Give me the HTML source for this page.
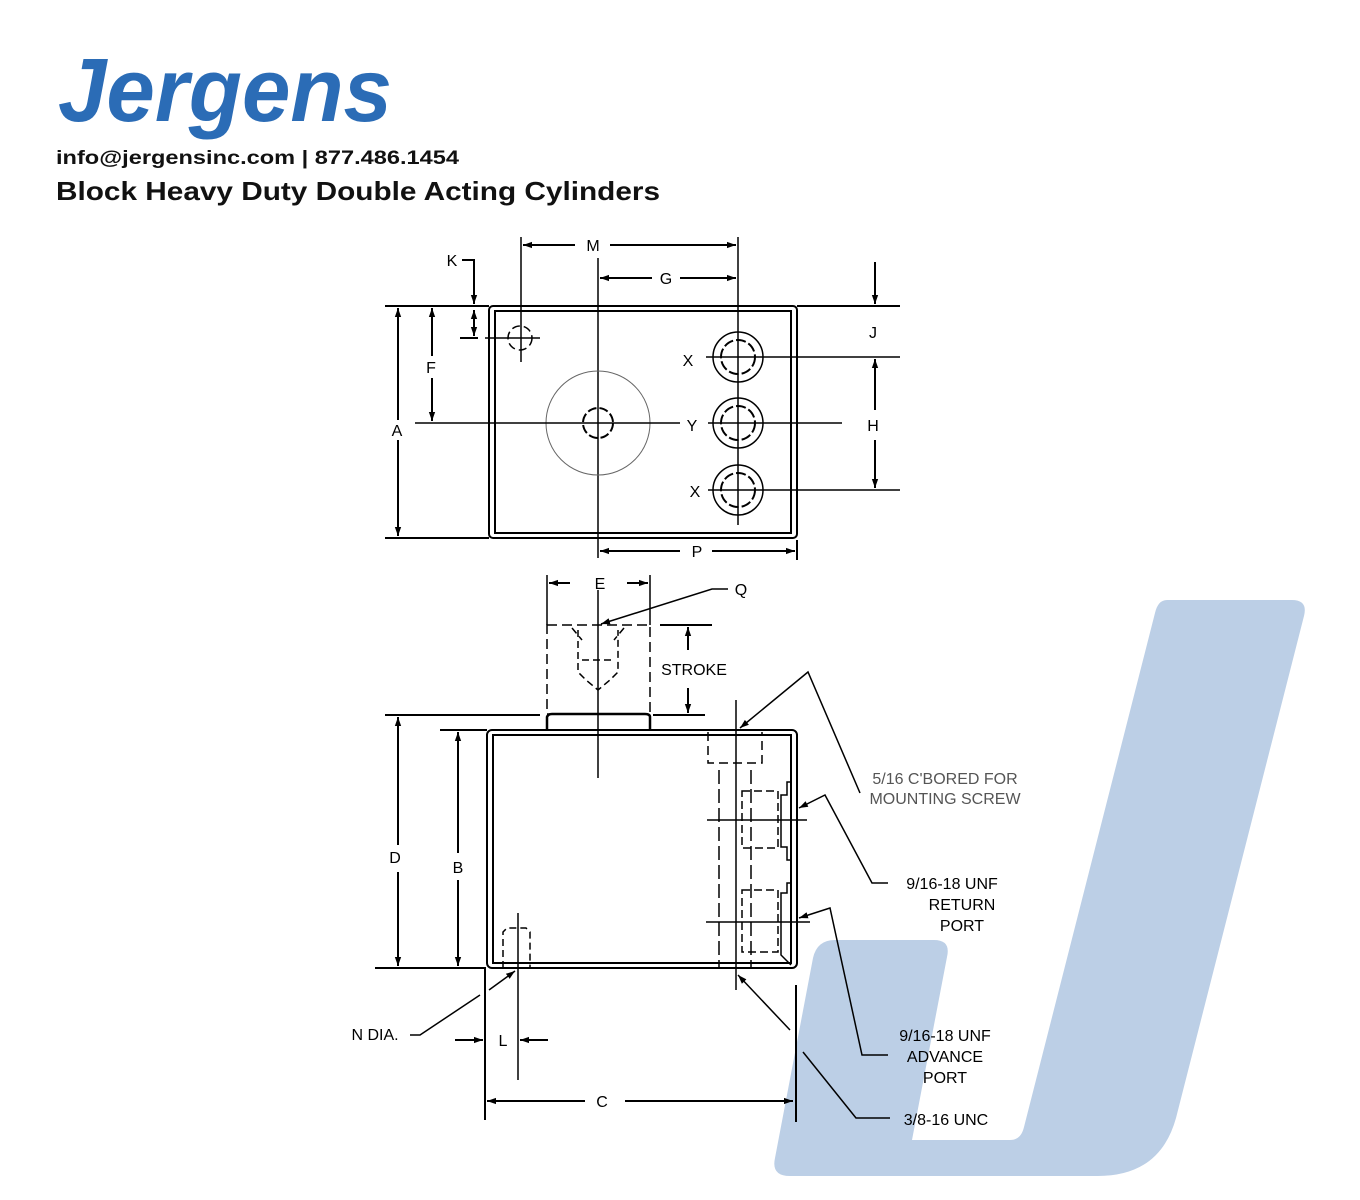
<!DOCTYPE html>
<html><head><meta charset="utf-8"><style>
html,body{margin:0;padding:0;background:#fff;}
body{width:1360px;height:1200px;position:relative;overflow:hidden;font-family:"Liberation Sans",sans-serif;}
svg{position:absolute;left:0;top:0;}
</style></head><body>
<svg width="1360" height="1200" viewBox="0 0 1360 1200" xmlns="http://www.w3.org/2000/svg">
<defs>
<marker id="a" viewBox="0 0 10 10" refX="10" refY="5" markerWidth="9" markerHeight="9" orient="auto-start-reverse" markerUnits="userSpaceOnUse"><path d="M0,1.5 L10,5 L0,8.5 Z" fill="#000"/></marker>
</defs>
<!-- big J watermark -->
<path d="M1167,600 L1292,600 Q1308,600 1304,616 L1176,1118 Q1160,1176 1098,1176 L790,1176 Q771,1176 775,1158 L813,958 Q817,940 835,940 L934,940 Q951,940 947,957 L912,1140 L1010,1140 Q1021,1140 1024,1127 L1155,613 Q1158,600 1167,600 Z" fill="#bccfe6"/>
<!-- header -->
<text x="58" y="121" font-family="Liberation Sans" font-weight="bold" font-style="italic" font-size="90" fill="#2b6cb6" textLength="334" lengthAdjust="spacingAndGlyphs">Jergens</text>
<text x="56" y="164" font-weight="bold" font-size="19" fill="#111" textLength="403" lengthAdjust="spacingAndGlyphs">info@jergensinc.com | 877.486.1454</text>
<text x="56" y="200" font-weight="bold" font-size="26" fill="#111" textLength="604" lengthAdjust="spacingAndGlyphs">Block Heavy Duty Double Acting Cylinders</text>

<g stroke="#000" stroke-width="2" fill="none">
<!-- TOP VIEW -->
<rect x="489" y="306" width="308" height="232" rx="4"/>
<rect x="495" y="311" width="296" height="222"/>
<line x1="385" y1="306" x2="489" y2="306"/>
<line x1="797" y1="306" x2="900" y2="306"/>
<line x1="385" y1="538" x2="489" y2="538"/>
<line x1="398" y1="308" x2="398" y2="420" marker-start="url(#a)"/>
<line x1="398" y1="440" x2="398" y2="536" marker-end="url(#a)"/>
<line x1="432" y1="308" x2="432" y2="356" marker-start="url(#a)"/>
<line x1="432" y1="378" x2="432" y2="421" marker-end="url(#a)"/>
<polyline points="462,260 474,260 474,304" marker-end="url(#a)"/>
<line x1="474" y1="310" x2="474" y2="336" marker-start="url(#a)" marker-end="url(#a)"/>
<line x1="460" y1="338" x2="478" y2="338"/>
<line x1="485" y1="338" x2="540" y2="338" stroke-width="1.5"/>
<circle cx="520" cy="338" r="12" stroke-dasharray="8 4" stroke-width="1.5"/>
<line x1="521" y1="237" x2="521" y2="362" stroke-width="1.5"/>
<line x1="523" y1="245" x2="575" y2="245" marker-start="url(#a)"/>
<line x1="610" y1="245" x2="736" y2="245" marker-end="url(#a)"/>
<line x1="738" y1="237" x2="738" y2="345" stroke-width="1.5"/>
<line x1="598" y1="258" x2="598" y2="558" stroke-width="1.5"/>
<line x1="600" y1="278" x2="652" y2="278" marker-start="url(#a)"/>
<line x1="680" y1="278" x2="736" y2="278" marker-end="url(#a)"/>
<circle cx="598" cy="423" r="52" stroke="#666" stroke-width="1"/>
<circle cx="598" cy="423" r="15" stroke-dasharray="9 3"/>
<line x1="415" y1="423" x2="680" y2="423" stroke-width="1.5"/>
<line x1="708" y1="423" x2="842" y2="423" stroke-width="1.5"/>
<circle cx="738" cy="357" r="25" stroke-width="1.5"/>
<circle cx="738" cy="357" r="17" stroke-dasharray="10 3"/>
<circle cx="738" cy="423" r="25" stroke-width="1.5"/>
<circle cx="738" cy="423" r="17" stroke-dasharray="10 3"/>
<circle cx="738" cy="490" r="25" stroke-width="1.5"/>
<circle cx="738" cy="490" r="17" stroke-dasharray="10 3"/>
<line x1="738" y1="345" x2="738" y2="525" stroke-width="1.5"/>
<line x1="706" y1="357" x2="900" y2="357" stroke-width="1.5"/>
<line x1="708" y1="490" x2="900" y2="490" stroke-width="1.5"/>
<line x1="875" y1="262" x2="875" y2="304" marker-end="url(#a)"/>
<line x1="875" y1="359" x2="875" y2="410" marker-start="url(#a)"/>
<line x1="875" y1="440" x2="875" y2="488" marker-end="url(#a)"/>
<line x1="600" y1="551" x2="680" y2="551" marker-start="url(#a)"/>
<line x1="712" y1="551" x2="795" y2="551" marker-end="url(#a)"/>
<line x1="797" y1="540" x2="797" y2="560"/>

<!-- SIDE VIEW -->
<rect x="487" y="730" width="310" height="238" rx="5"/>
<rect x="493" y="735" width="298" height="228"/>
<path d="M547,730 L547,717 Q548,714 552,714 L645,714 Q650,714 650,717 L650,730" stroke-width="2.5"/>
<rect x="547" y="625" width="103" height="89" stroke-dasharray="10 5" stroke-width="1.5"/>
<path d="M578,630 L578,672 L586,680 L598,690 L610,680 L618,672 L618,630 M572,628 L582,640 M624,628 L614,640 M582,660 L614,660" stroke-dasharray="7 4" stroke-width="1.5"/>
<line x1="598" y1="590" x2="598" y2="778" stroke-width="1.5"/>
<line x1="547" y1="575" x2="547" y2="625" stroke-width="1.5"/>
<line x1="650" y1="575" x2="650" y2="625" stroke-width="1.5"/>
<line x1="570" y1="583" x2="549" y2="583" marker-end="url(#a)"/>
<line x1="627" y1="583" x2="648" y2="583" marker-end="url(#a)"/>
<polyline points="728,589 712,589 601,624" stroke-width="1.5" marker-end="url(#a)"/>
<line x1="660" y1="625" x2="712" y2="625"/>
<line x1="653" y1="715" x2="705" y2="715"/>
<line x1="688" y1="627" x2="688" y2="650" marker-start="url(#a)"/>
<line x1="688" y1="688" x2="688" y2="713" marker-end="url(#a)"/>
<line x1="385" y1="715" x2="540" y2="715"/>
<line x1="398" y1="717" x2="398" y2="845" marker-start="url(#a)"/>
<line x1="398" y1="872" x2="398" y2="966" marker-end="url(#a)"/>
<line x1="440" y1="730" x2="487" y2="730"/>
<line x1="458" y1="732" x2="458" y2="853" marker-start="url(#a)"/>
<line x1="458" y1="880" x2="458" y2="966" marker-end="url(#a)"/>
<polyline points="375,968 485,968 485,1120"/>
<path d="M503,968 L503,932 L507,928 L526,928 L530,932 L530,968" stroke-dasharray="7 4" stroke-width="1.5"/>
<line x1="518" y1="913" x2="518" y2="1080" stroke-width="1.5"/>
<polyline points="410,1035 420,1035 480,995" stroke-width="1.5"/>
<line x1="489" y1="990" x2="515" y2="971" stroke-width="1.5" marker-end="url(#a)"/>
<line x1="455" y1="1040" x2="483" y2="1040" marker-end="url(#a)"/>
<line x1="548" y1="1040" x2="520" y2="1040" marker-end="url(#a)"/>
<line x1="487" y1="1101" x2="585" y2="1101" marker-start="url(#a)"/>
<line x1="625" y1="1101" x2="793" y2="1101" marker-end="url(#a)"/>
<line x1="796" y1="985" x2="796" y2="1122"/>
<line x1="736" y1="700" x2="736" y2="990" stroke-width="1.5"/>
<path d="M708,732 L708,763 L762,763 L762,732" stroke-dasharray="9 5" stroke-width="1.5"/>
<line x1="719" y1="770" x2="719" y2="968" stroke-dasharray="14 5" stroke-width="1.5"/>
<line x1="751" y1="770" x2="751" y2="968" stroke-dasharray="14 5" stroke-width="1.5"/>
<polyline points="791,782 787,782 787,795 781,795 781,847 787,847 787,860 791,860" stroke-width="1.5"/>
<rect x="742" y="791" width="36" height="57" stroke-dasharray="8 4" stroke-width="1.5"/>
<line x1="707" y1="820" x2="807" y2="820" stroke-width="1.5"/>
<polyline points="791,883 787,883 787,893 781,893 781,955 791,965" stroke-width="1.5"/>
<rect x="742" y="890" width="36" height="62" stroke-dasharray="8 4" stroke-width="1.5"/>
<line x1="706" y1="922" x2="810" y2="922" stroke-width="1.5"/>
<polyline points="860,793 808,672 740,728" stroke-width="1.5" marker-end="url(#a)"/>
<polyline points="888,883 872,883 825,795 799,808" stroke-width="1.5" marker-end="url(#a)"/>
<polyline points="888,1055 862,1055 830,908 799,918" stroke-width="1.5" marker-end="url(#a)"/>
<polyline points="890,1118 856,1118 803,1052" stroke-width="1.5"/>
<line x1="790" y1="1030" x2="738" y2="975" stroke-width="1.5" marker-end="url(#a)"/>
</g>

<g font-family="Liberation Sans" font-size="16" fill="#000" text-anchor="middle">
<text x="397" y="436">A</text>
<text x="431" y="373">F</text>
<text x="452" y="266">K</text>
<text x="593" y="251">M</text>
<text x="666" y="284">G</text>
<text x="688" y="366">X</text>
<text x="692" y="431">Y</text>
<text x="695" y="497">X</text>
<text x="873" y="338">J</text>
<text x="873" y="431">H</text>
<text x="697" y="557">P</text>
<text x="600" y="589">E</text>
<text x="741" y="595">Q</text>
<text x="694" y="675">STROKE</text>
<text x="395" y="863">D</text>
<text x="458" y="873">B</text>
<text x="503" y="1046">L</text>
<text x="602" y="1107">C</text>
<text x="375" y="1040">N DIA.</text>
<text x="945" y="784" fill="#555">5/16 C'BORED FOR</text>
<text x="945" y="804" fill="#555">MOUNTING SCREW</text>
<text x="952" y="889">9/16-18 UNF</text>
<text x="962" y="910">RETURN</text>
<text x="962" y="931">PORT</text>
<text x="945" y="1041">9/16-18 UNF</text>
<text x="945" y="1062">ADVANCE</text>
<text x="945" y="1083">PORT</text>
<text x="946" y="1125">3/8-16 UNC</text>
</g>
</svg>
</body></html>
